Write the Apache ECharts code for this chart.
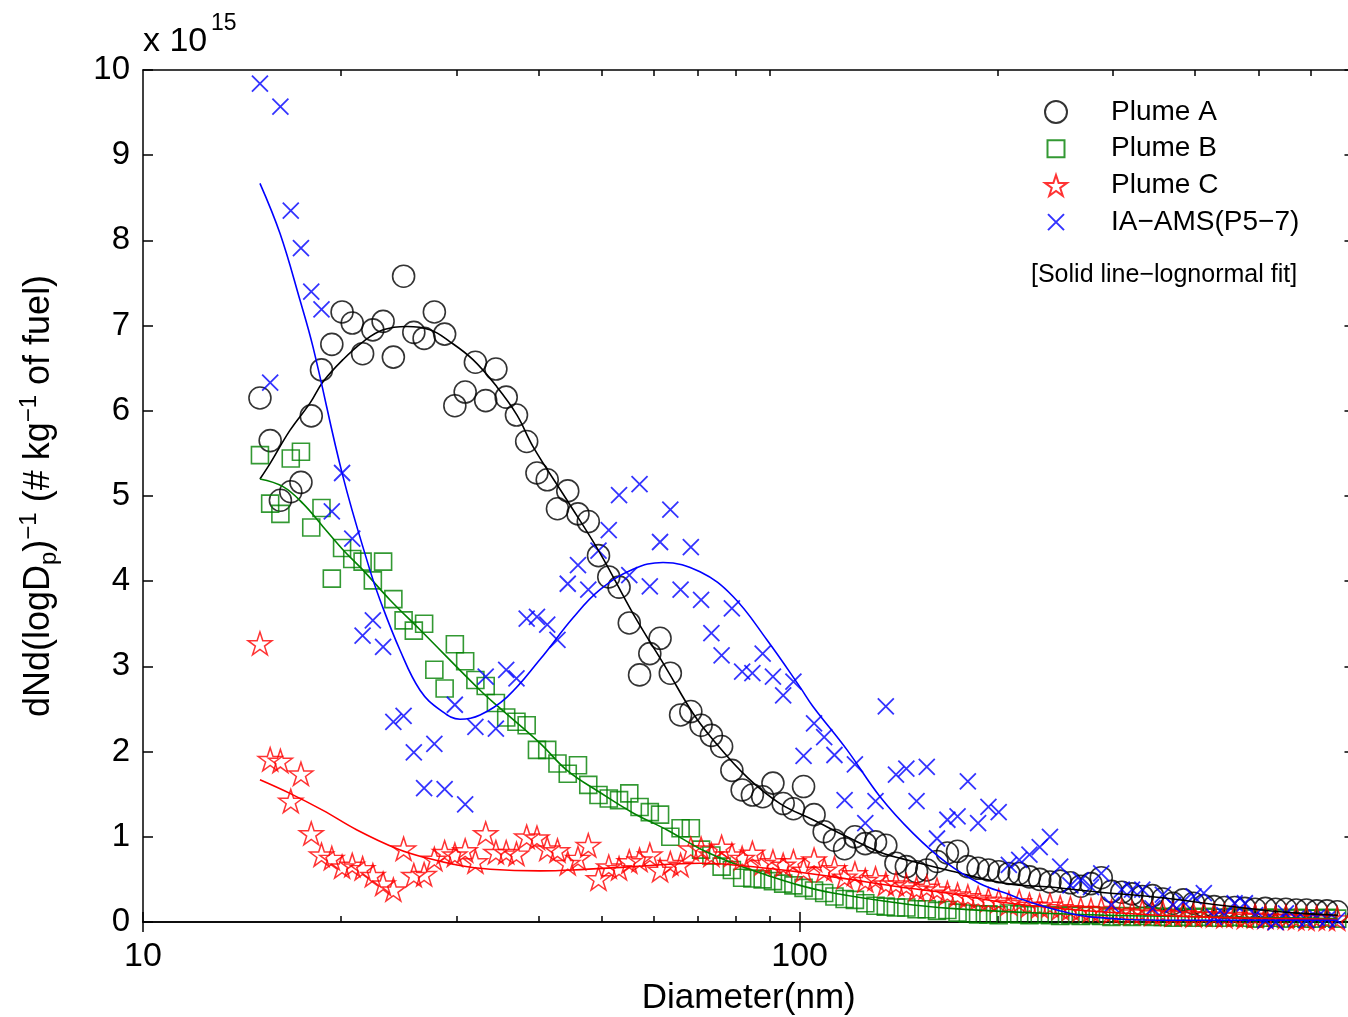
<!DOCTYPE html>
<html>
<head>
<meta charset="utf-8">
<script src="https://cdn.jsdelivr.net/npm/echarts@6/dist/echarts.min.js"></script>
<style>
  html, body { margin: 0; padding: 0; background: #fff; }
  .main { width: 1348px; height: 1017px; }
</style>
</head>
<body>
<div class="main"></div>
<script>
let chartDom = document.querySelector('.main');
let myChart = echarts.init(chartDom);

// size bins (nm), same for all four data sets
let diam = [15.07, 15.62, 16.19, 16.79, 17.40, 18.04, 18.70, 19.39, 20.10, 20.83,
  21.60, 22.39, 23.21, 24.06, 24.94, 25.85, 26.80, 27.78, 28.80, 29.85,
  30.95, 32.08, 33.26, 34.47, 35.74, 37.05, 38.40, 39.81, 41.27, 42.78,
  44.35, 45.97, 47.66, 49.40, 51.21, 53.09, 55.03, 57.05, 59.14, 61.30,
  63.55, 65.88, 68.29, 70.79, 73.39, 76.07, 78.86, 81.75, 84.74, 87.85,
  91.07, 94.40, 97.86, 101.4, 105.2, 109.0, 113.0, 117.1, 121.4, 125.9,
  130.5, 135.3, 140.2, 145.4, 150.7, 156.2, 161.9, 167.9, 174.0, 180.4,
  187.0, 193.9, 201.0, 208.3, 216.0, 223.9, 232.1, 240.6, 249.4, 258.5,
  268.0, 277.8, 288.0, 298.5, 309.5, 320.8, 332.6, 344.7, 357.4, 370.5,
  384.0, 398.1, 412.7, 427.8, 443.5, 459.7, 476.6, 494.0, 512.1, 530.9,
  550.3, 570.5, 591.4, 613.0, 635.5, 658.8];

// values in units of 1e15
let plumeA = [6.15, 5.65, 4.95, 5.05, 5.16, 5.94, 6.48, 6.78, 7.16, 7.03,
  6.67, 6.95, 7.05, 6.63, 7.58, 6.92, 6.85, 7.16, 6.90, 6.06,
  6.22, 6.57, 6.12, 6.49, 6.16, 5.95, 5.64, 5.27, 5.19, 4.85,
  5.06, 4.79, 4.70, 4.30, 4.05, 3.93, 3.51, 2.90, 3.15, 3.33,
  2.92, 2.43, 2.47, 2.31, 2.19, 2.06, 1.78, 1.55, 1.49, 1.47,
  1.63, 1.39, 1.33, 1.59, 1.26, 1.06, 0.96, 0.86, 1.00, 0.92,
  0.94, 0.90, 0.69, 0.65, 0.59, 0.61, 0.71, 0.81, 0.83, 0.65,
  0.63, 0.61, 0.59, 0.57, 0.57, 0.53, 0.50, 0.47, 0.48, 0.46,
  0.42, 0.45, 0.52, 0.36, 0.35, 0.33, 0.30, 0.31, 0.27, 0.22,
  0.26, 0.22, 0.19, 0.18, 0.17, 0.17, 0.16, 0.15, 0.16, 0.15,
  0.15, 0.14, 0.14, 0.13, 0.13, 0.12];

let plumeB = [5.48, 4.91, 4.79, 5.44, 5.52, 4.63, 4.86, 4.03, 4.39, 4.26,
  4.23, 4.01, 4.23, 3.79, 3.54, 3.42, 3.50, 2.96, 2.74, 3.26,
  3.06, 2.84, 2.77, 2.57, 2.40, 2.35, 2.31, 2.02, 2.02, 1.86,
  1.74, 1.84, 1.61, 1.49, 1.45, 1.43, 1.51, 1.35, 1.29, 1.26,
  1.00, 1.10, 1.10, 0.85, 0.78, 0.65, 0.61, 0.52, 0.51, 0.50,
  0.48, 0.45, 0.43, 0.40, 0.37, 0.34, 0.30, 0.27, 0.26, 0.22,
  0.19, 0.18, 0.17, 0.17, 0.15, 0.15, 0.13, 0.14, 0.11, 0.10,
  0.09, 0.09, 0.08, 0.10, 0.09, 0.08, 0.09, 0.08, 0.07, 0.08,
  0.07, 0.08, 0.07, 0.06, 0.07, 0.06, 0.07, 0.06, 0.06, 0.05,
  0.06, 0.05, 0.06, 0.05, 0.05, 0.06, 0.05, 0.04, 0.05, 0.05,
  0.04, 0.05, 0.04, 0.04, 0.05, 0.04];

let plumeC = [3.27, 1.91, 1.89, 1.42, 1.74, 1.04, 0.79, 0.75, 0.65, 0.67,
  0.63, 0.55, 0.45, 0.38, 0.86, 0.55, 0.56, 0.74, 0.82, 0.79,
  0.84, 0.71, 1.04, 0.82, 0.82, 0.80, 1.00, 0.99, 0.86, 0.84,
  0.69, 0.75, 0.90, 0.51, 0.65, 0.63, 0.71, 0.73, 0.79, 0.61,
  0.69, 0.67, 0.86, 0.86, 0.79, 0.88, 0.79, 0.75, 0.81, 0.69,
  0.71, 0.67, 0.71, 0.61, 0.73, 0.61, 0.63, 0.53, 0.57, 0.49,
  0.51, 0.45, 0.45, 0.43, 0.39, 0.41, 0.38, 0.34, 0.32, 0.30,
  0.28, 0.26, 0.25, 0.22, 0.24, 0.20, 0.19, 0.20, 0.17, 0.16,
  0.15, 0.14, 0.15, 0.12, 0.13, 0.11, 0.12, 0.10, 0.11, 0.09,
  0.10, 0.08, 0.09, 0.08, 0.07, 0.08, 0.06, 0.07, 0.06, 0.05,
  0.06, 0.05, 0.04, 0.05, 0.04, 0.04];

let iaAms = [9.84, 6.33, 9.57, 8.35, 7.91, 7.40, 7.19, 4.82, 5.27, 4.50,
  3.36, 3.54, 3.23, 2.35, 2.42, 1.99, 1.57, 2.09, 1.56, 2.55,
  1.38, 2.29, 2.88, 2.27, 2.96, 2.86, 3.56, 3.58, 3.49, 3.31,
  3.97, 4.19, 3.90, 4.36, 4.60, 5.01, 4.07, 5.14, 3.94, 4.46,
  4.84, 3.90, 4.40, 3.78, 3.39, 3.13, 3.68, 2.94, 2.92, 3.15,
  2.88, 2.66, 2.82, 1.95, 2.33, 2.17, 1.96, 1.43, 1.85, 1.16,
  1.42, 2.53, 1.73, 1.80, 1.42, 1.82, 0.98, 1.20, 1.24, 1.65,
  1.16, 1.35, 1.29, 0.67, 0.73, 0.79, 0.88, 1.00, 0.65, 0.43,
  0.49, 0.41, 0.57, 0.20, 0.38, 0.38, 0.38, 0.16, 0.32, 0.20,
  0.24, 0.30, 0.34, 0.06, 0.08, 0.22, 0.22, 0.08, 0.02, 0.00,
  0.10, 0.04, 0.02, 0.05, 0.03, 0.02];

// lognormal fit curves
let fitAx = [15.07, 15.61, 16.74, 17.96, 18.80, 20.16, 21.63, 23.21, 25.24, 27.36,
  29.35, 31.81, 34.60, 37.12, 39.26, 44.24, 49.66, 55.76, 62.84, 68.80,
  73.81, 83.17, 93.37, 104.8, 118.1, 132.6, 148.9, 167.7, 207.0, 240.6,
  286.7, 350.3, 468.6, 560.0, 660.0];
let fitAy = [5.20, 5.38, 5.77, 6.09, 6.34, 6.60, 6.81, 6.95, 6.99, 6.95,
  6.81, 6.60, 6.28, 5.95, 5.58, 4.95, 4.33, 3.62, 2.96, 2.45,
  2.14, 1.70, 1.39, 1.20, 1.00, 0.82, 0.71, 0.61, 0.45, 0.41,
  0.35, 0.29, 0.17, 0.11, 0.08];

let fitBx = [15.07, 16.34, 17.53, 18.80, 20.16, 21.63, 23.78, 26.42, 32.61, 34.97,
  40.23, 44.24, 49.66, 55.76, 62.84, 70.52, 79.18, 89.20, 100.1, 112.4,
  142.2, 169.5, 240.6, 341.8, 660.0];
let fitBy = [5.20, 5.11, 4.91, 4.64, 4.37, 4.13, 3.78, 3.43, 2.72, 2.51,
  2.10, 1.78, 1.52, 1.28, 1.08, 0.86, 0.69, 0.55, 0.43, 0.34,
  0.22, 0.16, 0.10, 0.07, 0.04];

let fitCx = [15.07, 16.74, 18.80, 21.18, 24.37, 27.07, 30.08, 33.78, 40.23, 45.18,
  55.76, 70.52, 89.20, 112.4, 142.2, 167.7, 209.1, 286.7, 407.3, 660.0];
let fitCy = [1.67, 1.51, 1.31, 1.08, 0.86, 0.75, 0.67, 0.62, 0.60, 0.61,
  0.65, 0.69, 0.63, 0.53, 0.41, 0.34, 0.22, 0.12, 0.06, 0.03];

let fitIx = [15.07, 16.17, 17.34, 18.15, 20.16, 22.16, 22.96, 24.63, 26.42, 28.34,
  30.40, 32.61, 35.84, 40.23, 45.18, 49.66, 55.76, 61.94, 70.52, 79.18,
  89.20, 100.1, 104.8, 118.1, 132.6, 148.9, 167.7, 188.3, 209.1, 218.9,
  246.6, 276.9, 350.3, 660.0];
let fitIy = [8.67, 8.08, 7.30, 6.75, 5.23, 4.13, 3.78, 3.19, 2.72, 2.49,
  2.38, 2.43, 2.64, 3.08, 3.57, 3.90, 4.14, 4.22, 4.11, 3.82,
  3.31, 2.76, 2.53, 2.02, 1.47, 1.04, 0.69, 0.45, 0.32, 0.26,
  0.14, 0.06, 0.02, 0.02];

let xMajor = [10, 100];
let xMinor = [20, 30, 40, 50, 60, 70, 80, 90, 200, 300, 400, 500, 600];
let names = ['Plume A', 'Plume B', 'Plume C', 'IA\u2212AMS(P5\u22127)'];

let font = 'Liberation Sans';
let starPath = 'path://M50,0L61.23,34.55L97.55,34.55L68.17,55.9L79.39,90.45L50,69.1L20.61,90.45L31.83,55.9L2.45,34.55L38.77,34.55Z';
let crossPath = 'path://M0,0L10,10M0,10L10,0';

function pairs(xs, ys) {
  return xs.map((x, i) => [x, ys[i]]);
}

function logAxis(pos, ticks, len, labels) {
  return {
    type: 'log',
    logBase: 10,
    min: 10,
    max: 700,
    position: pos,
    axisLine: { show: labels || pos === 'top', lineStyle: { color: '#000', width: 1.5 } },
    axisTick: { inside: true, length: len, customValues: ticks, lineStyle: { color: '#000', width: 1.5 } },
    axisLabel: labels ? {
      customValues: xMajor, color: '#000', fontFamily: font, fontSize: 34, margin: 18
    } : { show: false },
    splitLine: { show: false }
  };
}

let xMain = logAxis('bottom', xMajor, 10, true);
xMain.name = 'Diameter(nm)';
xMain.nameLocation = 'middle';
xMain.nameGap = 59;
xMain.nameTextStyle = { color: '#000', fontFamily: font, fontSize: 35 };

let option = {
  backgroundColor: '#fff',
  animation: false,
  grid: { left: 143, top: 70, right: -6.5, bottom: 95, containLabel: false, outerBoundsMode: 'none' },
  legend: {
    orient: 'vertical',
    left: 1044,
    top: 98,
    padding: 0,
    itemWidth: 22,
    itemHeight: 22,
    itemGap: 8.7,
    selectedMode: false,
    textStyle: { color: '#000', fontFamily: font, fontSize: 28, padding: [0, 0, 0, 39] },
    data: [
      { name: names[0] },
      { name: names[1], icon: 'path://M0,0M22,22M2.5,2.5H19.5V19.5H2.5Z' },
      { name: names[2] },
      { name: names[3], icon: 'path://M0,0M22,22M3,3L19,19M3,19L19,3' }
    ]
  },
  xAxis: [
    xMain,
    logAxis('top', xMajor, 10, false),
    logAxis('bottom', xMinor, 6, false),
    logAxis('top', xMinor, 6, false)
  ],
  yAxis: [
    {
      type: 'value', min: 0, max: 10, interval: 1, position: 'left',
      axisLine: { show: true, lineStyle: { color: '#000', width: 1.5 } },
      axisTick: { inside: true, length: 10, lineStyle: { color: '#000', width: 1.5 } },
      axisLabel: { color: '#000', fontFamily: font, fontSize: 33, margin: 13 },
      splitLine: { show: false },
      name: 'dNd(logD{sub|p}){sup|\u22121} (# kg{sup|\u22121} of fuel)',
      nameLocation: 'middle',
      nameRotate: 90,
      nameGap: 82,
      nameTextStyle: {
        color: '#000', fontFamily: font, fontSize: 36, lineHeight: 44,
        rich: {
          sup: { fontFamily: font, fontSize: 24, color: '#000', verticalAlign: 'top', lineHeight: 24 },
          sub: { fontFamily: font, fontSize: 24, color: '#000', verticalAlign: 'bottom', lineHeight: 24 }
        }
      }
    },
    {
      type: 'value', min: 0, max: 10, interval: 1, position: 'right',
      axisLine: { show: true, lineStyle: { color: '#000', width: 1.5 } },
      axisTick: { inside: true, length: 10, lineStyle: { color: '#000', width: 1.5 } },
      axisLabel: { show: false },
      splitLine: { show: false }
    }
  ],
  graphic: [
    { type: 'text', x: 143, y: 42, style: { text: 'x 10', font: '34px "Liberation Sans"', fill: '#000', align: 'left', verticalAlign: 'middle', textAlign: 'left', textVerticalAlign: 'middle' } },
    { type: 'text', x: 211, y: 24, style: { text: '15', font: '23px "Liberation Sans"', fill: '#000', align: 'left', verticalAlign: 'middle', textAlign: 'left', textVerticalAlign: 'middle' } },
    { type: 'text', x: 1031, y: 275, style: { text: '[Solid line\u2212lognormal fit]', font: '25px "Liberation Sans"', fill: '#000', align: 'left', verticalAlign: 'middle', textAlign: 'left', textVerticalAlign: 'middle' } }
  ],
  series: [
    {
      name: names[0], type: 'scatter', symbol: 'circle', symbolSize: 22,
      itemStyle: { color: 'transparent', borderColor: '#000', borderWidth: 1.6 },
      data: pairs(diam, plumeA)
    },
    {
      name: names[1], type: 'scatter', symbol: 'rect', symbolSize: 17,
      itemStyle: { color: 'transparent', borderColor: '#008000', borderWidth: 1.6 },
      data: pairs(diam, plumeB)
    },
    {
      name: names[2], type: 'scatter', symbol: starPath, symbolSize: [24, 23],
      itemStyle: { color: 'transparent', borderColor: '#ff0000', borderWidth: 1.5 },
      data: pairs(diam, plumeC)
    },
    {
      name: names[3], type: 'scatter', symbol: crossPath, symbolSize: 16,
      itemStyle: { color: 'transparent', borderColor: '#0000ff', borderWidth: 1.8 },
      data: pairs(diam, iaAms)
    },
    { type: 'line', smooth: 0.4, showSymbol: false, lineStyle: { color: '#000', width: 1.6 }, data: pairs(fitAx, fitAy) },
    { type: 'line', smooth: 0.4, showSymbol: false, lineStyle: { color: '#008000', width: 1.6 }, data: pairs(fitBx, fitBy) },
    { type: 'line', smooth: 0.4, showSymbol: false, lineStyle: { color: '#ff0000', width: 1.6 }, data: pairs(fitCx, fitCy) },
    { type: 'line', smooth: 0.4, showSymbol: false, lineStyle: { color: '#0000ff', width: 1.6 }, data: pairs(fitIx, fitIy) }
  ]
};

option && myChart.setOption(option);
</script>
</body>
</html>
